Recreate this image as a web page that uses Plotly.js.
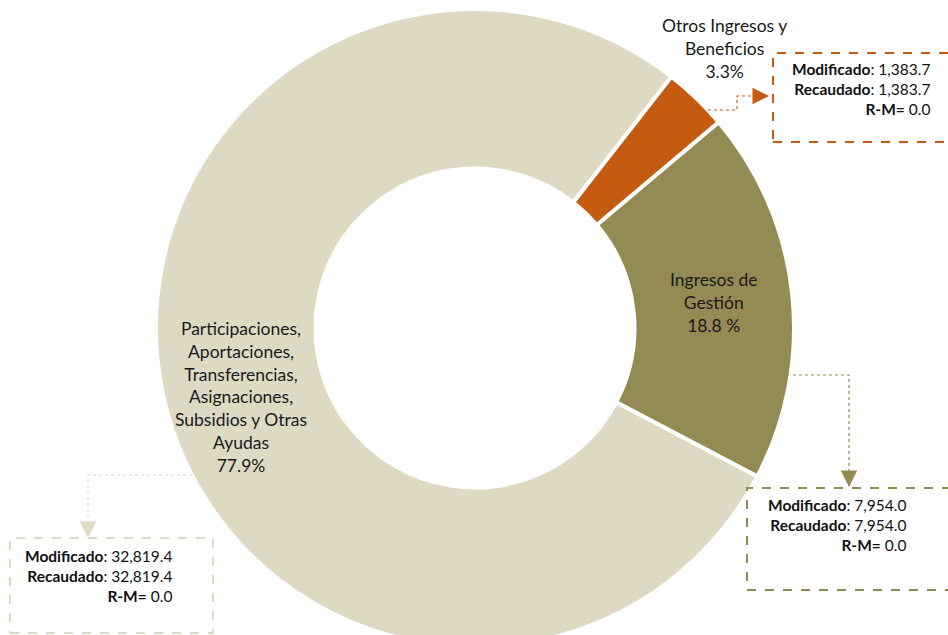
<!DOCTYPE html>
<html>
<head>
<meta charset="utf-8">
<script src="https://cdn.plot.ly/plotly-3.0.1.min.js"></script>
<style>
html,body{margin:0;padding:0;overflow:hidden;background:#fff;}
#chart{width:948px;height:650px;}
</style>
</head>
<body>
<div id="chart"></div>
<script>
// ---- data ----
const categories = ["Otros Ingresos y Beneficios", "Ingresos de Gestión", "Participaciones, Aportaciones, Transferencias, Asignaciones, Subsidios y Otras Ayudas"];
const labelLines = [
  ["Otros Ingresos y", "Beneficios"],
  ["Ingresos de", "Gestión"],
  ["Participaciones,", "Aportaciones,", "Transferencias,", "Asignaciones,", "Subsidios y Otras", "Ayudas"]
];
const modificado = [1383.7, 7954.0, 32819.4];
const recaudado = [1383.7, 7954.0, 32819.4];
const percentLabels = ["3.3%", "18.8 %", "77.9%"];
const sliceColors = ["#C55A11", "#948A54", "#DDD9C3"];

// ---- layout helpers ----
const W = 948, H = 650;
const px = x => x / W;
const py = y => (H - y) / H;
const fmt = v => v.toLocaleString('en-US', {minimumFractionDigits: 1, maximumFractionDigits: 1});
const FONT = 'Lato, "Noto Sans", sans-serif';

const trace = {
  type: 'pie',
  labels: categories,
  values: modificado,
  sort: false,
  direction: 'clockwise',
  rotation: 38,
  hole: 0.5,
  marker: {colors: sliceColors, line: {color: '#ffffff', width: 4}},
  textinfo: 'none',
  hoverinfo: 'skip',
  showlegend: false,
  domain: {x: [px(156), px(794)], y: [py(647), py(9)]}
};

// slice label positions (pixel centers) and info-box layout
const labelPos = [[724, 48], [713, 302], [241, 397]];
const boxes = [
  {x0: 773, y0: 53, x1: 960, y1: 142, tx: 932, ty: 89},
  {x0: 747, y0: 488, x1: 960, y1: 590, tx: 908, ty: 525},
  {x0: 10, y0: 538, x1: 213, y1: 633, tx: 174, ty: 576}
];
const connectors = [
  {path: [[708,110],[737,110],[737,96],[758,96]], tip: [769,96], tail: [757,96]},
  {path: [[793,375],[849,375],[849,476]], tip: [849,487], tail: [849,475]},
  {path: [[192,475],[88,475],[88,526]], tip: [88,538], tail: [88,526]}
];

const annotations = [];
const shapes = [];
categories.forEach((c, i) => {
  const lines = labelLines[i].concat([percentLabels[i]]);
  annotations.push({
    xref: 'paper', yref: 'paper', x: px(labelPos[i][0]), y: py(labelPos[i][1]),
    xanchor: 'center', yanchor: 'middle', showarrow: false, align: 'center',
    text: lines.join('<br>'),
    font: {family: FONT, size: 17.5, color: '#1a1a1a'}
  });
  const b = boxes[i];
  shapes.push({
    type: 'rect', xref: 'paper', yref: 'paper',
    x0: px(b.x0), x1: px(b.x1), y0: py(b.y1), y1: py(b.y0),
    line: {color: sliceColors[i], width: 2, dash: 'dash'}, fillcolor: 'rgba(0,0,0,0)'
  });
  const rm = recaudado[i] - modificado[i];
  annotations.push({
    xref: 'paper', yref: 'paper', x: px(b.tx), y: py(b.ty),
    xanchor: 'right', yanchor: 'middle', showarrow: false, align: 'right',
    text: '<b>Modificado</b>: ' + fmt(modificado[i]) + '<br><b>Recaudado</b>: ' + fmt(recaudado[i]) + '<br><b>R-M=</b> ' + fmt(rm),
    font: {family: FONT, size: 15.5, color: '#111111'}
  });
  const cn = connectors[i];
  shapes.push({
    type: 'path', xref: 'paper', yref: 'paper',
    path: cn.path.map((p, k) => (k ? 'L' : 'M') + px(p[0]) + ',' + py(p[1])).join(' '),
    line: {color: sliceColors[i], width: 1.2, dash: 'dot'}
  });
  annotations.push({
    xref: 'paper', yref: 'paper', axref: 'pixel', ayref: 'pixel',
    x: px(cn.tip[0]), y: py(cn.tip[1]),
    ax: cn.tail[0] - cn.tip[0], ay: cn.tail[1] - cn.tip[1],
    text: '', showarrow: true, arrowhead: 2, arrowsize: 2.2, arrowwidth: 1.5,
    arrowcolor: sliceColors[i]
  });
});

const layout = {
  width: W, height: H,
  margin: {l: 0, r: 0, t: 0, b: 0},
  paper_bgcolor: '#ffffff',
  showlegend: false,
  shapes: shapes,
  annotations: annotations,
  font: {family: FONT}
};

Plotly.newPlot('chart', [trace], layout, {displayModeBar: false, staticPlot: true});
</script>
</body>
</html>
